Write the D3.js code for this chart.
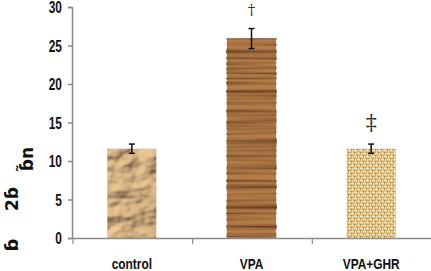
<!DOCTYPE html>
<html>
<head>
<meta charset="utf-8">
<script src="https://cdn.jsdelivr.net/npm/d3@7"></script>
<style>
  body { margin: 0; background: #fff; }
  svg { display: block; }
</style>
</head>
<body>
<div id="chart"></div>
<script>
// bar chart with textured bars, error bars and significance marks
const groups = ["control", "VPA", "VPA+GHR"];
const means = [11.6, 25.9, 11.6];
const errors = [0.6, 1.3, 0.6];
const marks = ["", "†", "‡"];
const yTicks = [0, 5, 10, 15, 20, 25, 30];

const width = 431, height = 271;
const margin = { top: 7, right: 0, bottom: 33, left: 72 };
const font = "Liberation Sans, Arial, sans-serif";

const svg = d3.select("#chart")
  .append("svg")
    .attr("width", width)
    .attr("height", height)
    .style("background", "#fff");

const defs = svg.append("defs");

// crumpled paper look (control)
const fPaper = defs.append("filter").attr("id", "paper")
  .attr("x", 0).attr("y", 0).attr("width", 1).attr("height", 1);
fPaper.append("feTurbulence").attr("type", "fractalNoise")
  .attr("baseFrequency", "0.035 0.05").attr("numOctaves", 3).attr("seed", 4).attr("result", "n");
fPaper.append("feDiffuseLighting").attr("in", "n").attr("surfaceScale", 6.5)
  .attr("lighting-color", "#f0c994").attr("result", "lit")
  .append("feDistantLight").attr("azimuth", 225).attr("elevation", 45);
fPaper.append("feComposite").attr("in", "lit").attr("in2", "SourceGraphic").attr("operator", "in");

// wood grain (VPA)
const fWood = defs.append("filter").attr("id", "wood")
  .attr("x", 0).attr("y", 0).attr("width", 1).attr("height", 1);
fWood.append("feTurbulence").attr("type", "fractalNoise")
  .attr("baseFrequency", "0.004 0.2").attr("numOctaves", 3).attr("seed", 7).attr("result", "n");
fWood.append("feColorMatrix").attr("in", "n").attr("type", "matrix")
  .attr("values", "0 0 0 0 0  0 0 0 0 0  0 0 0 0 0  -2.2 0 0 0 1.35")
  .attr("result", "dark");
fWood.append("feFlood").attr("flood-color", "#4e2812").attr("result", "dc");
fWood.append("feComposite").attr("in", "dc").attr("in2", "dark").attr("operator", "in").attr("result", "stripes");
fWood.append("feMerge").call(m => {
  m.append("feMergeNode").attr("in", "SourceGraphic");
  m.append("feMergeNode").attr("in", "stripes");
});

// burlap weave (VPA+GHR)
const p3 = defs.append("pattern")
  .attr("id", "weave")
  .attr("patternUnits", "userSpaceOnUse")
  .attr("width", 6).attr("height", 6);
p3.append("rect").attr("width", 6).attr("height", 6).attr("fill", "#d2ae6c");
p3.append("rect").attr("x", 0).attr("y", 0).attr("width", 3).attr("height", 1.5).attr("fill", "#f3e2b2");
p3.append("rect").attr("x", 3).attr("y", 3).attr("width", 3).attr("height", 1.5).attr("fill", "#f3e2b2");
p3.append("rect").attr("x", 4).attr("y", 0).attr("width", 1.2).attr("height", 3).attr("fill", "#efdaa4");
p3.append("rect").attr("x", 1).attr("y", 3).attr("width", 1.2).attr("height", 3).attr("fill", "#efdaa4");
p3.append("rect").attr("x", 0).attr("y", 2).attr("width", 1).attr("height", 1).attr("fill", "#a5824a");
p3.append("rect").attr("x", 3).attr("y", 5).attr("width", 1).attr("height", 1).attr("fill", "#a5824a");

const fills = ["#c9a272", "#b37b48", "url(#weave)"];
const filters = ["url(#paper)", "url(#wood)", null];

const x = d3.scaleBand()
  .domain(groups)
  .range([margin.left, 431])
  .paddingInner(0.59)
  .paddingOuter(0.295);

const y = d3.scaleLinear()
  .domain([0, 30])
  .range([height - margin.bottom, margin.top]);

// bars
svg.selectAll(".bar")
  .data(groups)
  .enter()
  .append("rect")
    .attr("class", "bar")
    .attr("x", d => x(d))
    .attr("y", (d, i) => y(means[i]))
    .attr("width", x.bandwidth())
    .attr("height", (d, i) => y(0) - y(means[i]))
    .attr("fill", (d, i) => fills[i])
    .attr("filter", (d, i) => filters[i]);

// y axis
const yAxis = svg.append("g")
  .attr("transform", `translate(${margin.left},0)`)
  .call(d3.axisLeft(y).tickValues(yTicks).tickSize(4).tickPadding(6));
yAxis.selectAll("line, path").attr("stroke", "#8a8a8a").attr("stroke-width", 1.5);
yAxis.selectAll("text")
  .attr("font-family", font)
  .attr("font-size", 16.5)
  .attr("font-weight", "bold")
  .attr("fill", "#111")
  .attr("dy", "0.36em")
  .attr("x", -14)
  .attr("transform", "scale(0.72,1)");

// x axis with ticks at band boundaries
const xAxis = svg.append("g")
  .attr("transform", `translate(0,${y(0)})`)
  .call(d3.axisBottom(x).tickSize(0).tickPadding(21));
xAxis.select(".domain").attr("stroke", "#8a8a8a").attr("stroke-width", 1.5);
xAxis.selectAll("text")
  .attr("font-family", font)
  .attr("font-size", 14)
  .attr("font-weight", "bold")
  .attr("fill", "#111")
  .attr("transform", "scale(0.85,1)");
const step = x.step();
xAxis.selectAll(".edge")
  .data(d3.range(groups.length + 1))
  .enter()
  .append("line")
    .attr("class", "edge")
    .attr("x1", i => margin.left + 1 + i * step)
    .attr("x2", i => margin.left + 1 + i * step)
    .attr("y1", 0).attr("y2", 6)
    .attr("stroke", "#8a8a8a").attr("stroke-width", 1.2);

// error bars
const eb = svg.selectAll(".err")
  .data(groups)
  .enter()
  .append("g")
    .attr("class", "err")
    .attr("transform", d => `translate(${x(d) + x.bandwidth() / 2},0)`);
eb.append("line")
  .attr("y1", (d, i) => y(means[i] + errors[i]))
  .attr("y2", (d, i) => y(means[i] - errors[i]))
  .attr("stroke", "#111").attr("stroke-width", 1.5);
[1, -1].forEach(s => {
  eb.append("line")
    .attr("x1", -3).attr("x2", 3)
    .attr("y1", (d, i) => y(means[i] + s * errors[i]))
    .attr("y2", (d, i) => y(means[i] + s * errors[i]))
    .attr("stroke", "#111").attr("stroke-width", 1.5);
});

// significance marks
eb.append("text")
  .attr("text-anchor", "middle")
  .attr("y", (d, i) => y(means[i] + errors[i]) - 14)
  .attr("font-family", "DejaVu Serif, serif")
  .attr("font-size", (d, i) => i === 2 ? 22 : 15)
  .attr("fill", "#333")
  .text((d, i) => marks[i]);

// garbled y axis label
[["ɓ", 12, 245, 18], ["2ɓ", 12, 199, 17], ["ɓ̃n", 27, 159, 17]].forEach(([t, tx, ty, fs]) => {
  svg.append("text")
    .attr("transform", `translate(${tx},${ty}) rotate(-90)`)
    .attr("text-anchor", "middle")
    .attr("dy", "0.35em")
    .attr("font-family", "DejaVu Sans, sans-serif")
    .attr("font-weight", "bold")
    .attr("font-size", fs)
    .attr("fill", "#111")
    .text(t);
});
</script>
</body>
</html>
